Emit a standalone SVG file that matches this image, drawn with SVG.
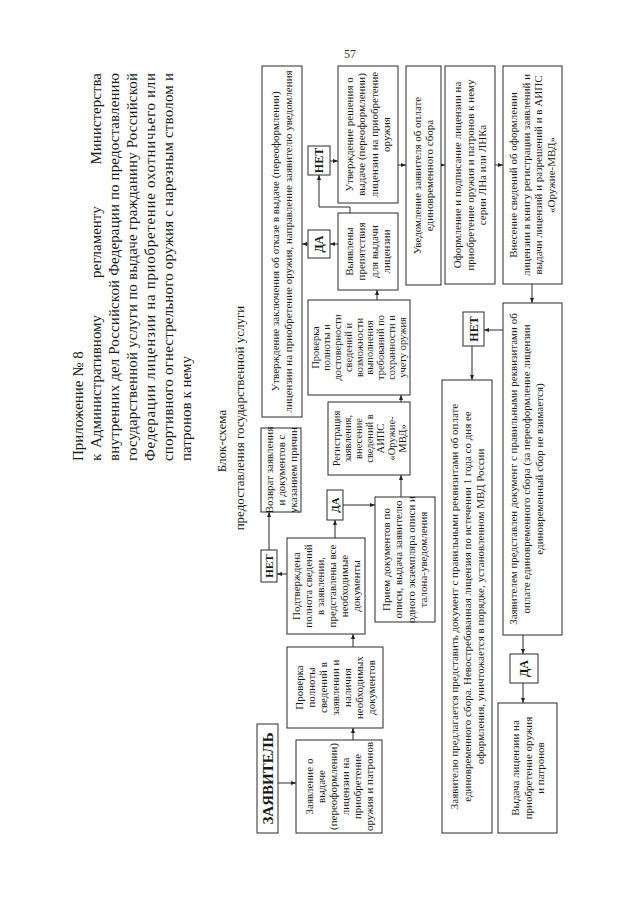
<svg xmlns="http://www.w3.org/2000/svg" width="640" height="905" viewBox="0 0 640 905">
<defs>
<marker id="ah" viewBox="0 0 10 10" refX="10" refY="5" markerWidth="5" markerHeight="5" markerUnits="userSpaceOnUse" orient="auto"><path d="M0,1 L10,5 L0,9 Z" fill="#222"/></marker>
</defs>
<style>
.b{fill:#fff;stroke:#2a2a2a;stroke-width:1}
.t{font-family:"Liberation Serif","Times New Roman",serif;font-size:11px;fill:#1a1a1a;text-anchor:middle}
.n{font-size:10.5px}
.k{font-weight:bold}
.h{font-family:"Liberation Serif","Times New Roman",serif;font-size:15px;fill:#1a1a1a}
.s{font-family:"Liberation Serif","Times New Roman",serif;font-size:13px;fill:#1a1a1a;text-anchor:middle}
.c{fill:none;stroke:#2a2a2a;stroke-width:1;marker-end:url(#ah)}
</style>
<rect width="640" height="905" fill="#fff"/>
<text x="350" y="58" style="font-family:'Liberation Serif',serif;font-size:12px;fill:#333" text-anchor="middle">57</text>
<g transform="matrix(0,-1,1,0,0,905)">
<g id="title">
<text class="h" x="444" y="83">Приложение № 8</text>
<text class="h" y="101"><tspan x="444">к</tspan><tspan x="457">Административному</tspan><tspan x="627">регламенту</tspan><tspan x="832" text-anchor="end">Министерства</tspan></text>
<text class="h" x="444" y="119" textLength="388" lengthAdjust="spacing">внутренних дел Российской Федерации по предоставлению</text>
<text class="h" x="444" y="137" textLength="388" lengthAdjust="spacing">государственной услуги по выдаче гражданину Российской</text>
<text class="h" x="444" y="155" textLength="388" lengthAdjust="spacing">Федерации лицензии на приобретение охотничьего или</text>
<text class="h" x="444" y="173" textLength="388" lengthAdjust="spacing">спортивного огнестрельного оружия с нарезным стволом и</text>
<text class="h" x="444" y="191">патронов к нему</text>
<text class="s" x="464" y="226">Блок-схема</text>
<text class="s" x="487" y="244">предоставления государственной услуги</text>
</g>
<g id="connectors">
<path class="c" d="M122,278 L122,296"/>
<path class="c" d="M165,353 L177,353"/>
<path class="c" d="M258,353 L271,353"/>
<path class="c" d="M331,287 L331,277"/>
<path class="c" d="M355,269 L393,269"/>
<path class="c" d="M367,335 L385,335"/>
<path class="c" d="M400,343 L400,375"/>
<path class="c" d="M408,401 L430,401"/>
<path class="c" d="M503,401 L510,401"/>
<path class="c" d="M605,377 L615,377"/>
<path class="c" d="M661,338 L661,330"/>
<path class="c" d="M661,308 L661,302"/>
<path class="c" d="M692,350 L698,350 L698,319 L730,319"/>
<path class="c" d="M744,330 L744,338"/>
<path class="c" d="M740,398 L740,406"/>
<path class="c" d="M740,441 L740,445"/>
<path class="c" d="M740,495 L740,503"/>
<path class="c" d="M621,532 L602,532"/>
<path class="c" d="M575,503 L575,484"/>
<path class="c" d="M559,472 L525,472"/>
<path class="c" d="M270,523 L251,523"/>
<path class="c" d="M222,523 L202,523"/>
</g>
<g id="zayavitel"><rect class="b" x="72" y="257" width="109" height="21"/><text class="t k" x="126.5" y="273" style="font-size:15px">ЗАЯВИТЕЛЬ</text></g>
<g id="zayavlenie"><rect class="b" x="72" y="296" width="93" height="86"/><text class="t"><tspan x="118.5" y="312.6">Заявление о</tspan><tspan x="118.5" y="324.6">выдаче</tspan><tspan x="118.5" y="336.6">(переоформлении)</tspan><tspan x="118.5" y="348.6">лицензии на</tspan><tspan x="118.5" y="360.6">приобретение</tspan><tspan x="118.5" y="372.6">оружия и патронов</tspan></text></g>
<g id="proverka1"><rect class="b" x="177" y="287" width="81" height="96"/><text class="t"><tspan x="217.5" y="302.6">Проверка</tspan><tspan x="217.5" y="314.6">полноты</tspan><tspan x="217.5" y="326.6">сведений в</tspan><tspan x="217.5" y="338.6">заявлении и</tspan><tspan x="217.5" y="350.6">наличия</tspan><tspan x="217.5" y="362.6">необходимых</tspan><tspan x="217.5" y="374.6">документов</tspan></text></g>
<g id="podtverzhdena"><rect class="b" x="271" y="287" width="96" height="78"/><text class="t"><tspan x="319" y="299.6">Подтверждена</tspan><tspan x="319" y="311.6">полнота сведений</tspan><tspan x="319" y="323.6">в заявлении,</tspan><tspan x="319" y="335.6">представлены все</tspan><tspan x="319" y="347.6">необходимые</tspan><tspan x="319" y="359.6">документы</tspan></text></g>
<g id="net2"><rect class="b" x="323" y="261" width="32" height="16"/><text class="t k" x="339" y="273">НЕТ</text></g>
<g id="vozvrat"><rect class="b" x="393" y="261" width="84" height="40"/><text class="t"><tspan x="435" y="272.6">Возврат заявления</tspan><tspan x="435" y="284.6">и документов с</tspan><tspan x="435" y="296.6">указанием причин</tspan></text></g>
<g id="da2"><rect class="b" x="385" y="327" width="30" height="16"/><text class="t k" x="400" y="339">ДА</text></g>
<g id="priem"><rect class="b" x="283" y="375" width="125" height="60"/><text class="t"><tspan x="345.5" y="389.9">Прием документов по</tspan><tspan x="345.5" y="402.4">описи, выдача заявителю</tspan><tspan x="345.5" y="414.9">одного экземпляра описи и</tspan><tspan x="345.5" y="427.4">талона-уведомления</tspan></text></g>
<g id="registraciya"><rect class="b" x="430" y="328" width="73" height="82"/><text class="t n"><tspan x="466.5" y="339.5">Регистрация</tspan><tspan x="466.5" y="350.5">заявления,</tspan><tspan x="466.5" y="361.5">внесение</tspan><tspan x="466.5" y="372.5">сведений в</tspan><tspan x="466.5" y="383.5">АИПС</tspan><tspan x="466.5" y="394.5">«Оружие-</tspan><tspan x="466.5" y="405.5">МВД»</tspan></text></g>
<g id="proverka2"><rect class="b" x="510" y="308" width="95" height="102"/><text class="t n"><tspan x="557.5" y="319.3">Проверка</tspan><tspan x="557.5" y="330.1">полноты и</tspan><tspan x="557.5" y="340.9">достоверности</tspan><tspan x="557.5" y="351.7">сведений и</tspan><tspan x="557.5" y="362.5">возможности</tspan><tspan x="557.5" y="373.3">выполнения</tspan><tspan x="557.5" y="384.1">требований по</tspan><tspan x="557.5" y="394.9">сохранности и</tspan><tspan x="557.5" y="405.7">учету оружия</tspan></text></g>
<g id="vyyavleny"><rect class="b" x="615" y="338" width="77" height="60"/><text class="t"><tspan x="653.5" y="352.9">Выявлены</tspan><tspan x="653.5" y="365.4">препятствия</tspan><tspan x="653.5" y="377.9">для выдачи</tspan><tspan x="653.5" y="390.4">лицензии</tspan></text></g>
<g id="da1"><rect class="b" x="647" y="308" width="28" height="22"/><text class="t k" x="661" y="323" style="font-size:12px">ДА</text></g>
<g id="net1"><rect class="b" x="730" y="308" width="29" height="22"/><text class="t k" x="744.5" y="323" style="font-size:12px">НЕТ</text></g>
<g id="otkaz"><rect class="b" x="488" y="262" width="351" height="40"/><text class="t"><tspan x="663.5" y="279">Утверждение заключения об отказе в выдаче (переоформлении)</tspan><tspan x="663.5" y="292">лицензии на приобретение оружия, направление заявителю уведомления</tspan></text></g>
<g id="reshenie"><rect class="b" x="702" y="338" width="137" height="60"/><text class="t"><tspan x="770.5" y="352.9">Утверждение решения о</tspan><tspan x="770.5" y="365.4">выдаче (переоформлении)</tspan><tspan x="770.5" y="377.9">лицензии на приобретение</tspan><tspan x="770.5" y="390.4">оружия</tspan></text></g>
<g id="uvedomlenie"><rect class="b" x="620" y="406" width="219" height="35"/><text class="t"><tspan x="729.5" y="420.9">Уведомление заявителя об оплате</tspan><tspan x="729.5" y="433.4">единовременного сбора</tspan></text></g>
<g id="oformlenie"><rect class="b" x="621" y="445" width="218" height="50"/><text class="t"><tspan x="730" y="461.1">Оформление и подписание лицензии на</tspan><tspan x="730" y="473.6">приобретение оружия и патронов к нему</tspan><tspan x="730" y="486.1">серии ЛНа или ЛНКа</tspan></text></g>
<g id="vnesenie"><rect class="b" x="621" y="503" width="218" height="59"/><text class="t"><tspan x="730" y="517.4">Внесение сведений об оформлении</tspan><tspan x="730" y="529.9">лицензии в книгу регистрации заявлений и</tspan><tspan x="730" y="542.4">выдачи лицензий и разрешений и в АИПС</tspan><tspan x="730" y="554.9">«Оружие-МВД»</tspan></text></g>
<g id="predstavlen"><rect class="b" x="270" y="503" width="332" height="59"/><text class="t"><tspan x="436" y="517">Заявителем представлен документ с правильными реквизитами об</tspan><tspan x="436" y="530">оплате единовременного сбора (за переоформление лицензии</tspan><tspan x="436" y="543">единовременный сбор не взимается)</tspan></text></g>
<g id="net3"><rect class="b" x="559" y="463" width="34" height="21"/><text class="t k" x="576" y="477.5" style="font-size:12px">НЕТ</text></g>
<g id="predlagaetsya"><rect class="b" x="72" y="442" width="453" height="50"/><text class="t"><tspan x="298.5" y="457.6">Заявителю предлагается представить документ с правильными реквизитами об оплате</tspan><tspan x="298.5" y="470.6">единовременного сбора. Невостребованная лицензия по истечении 1 года со дня ее</tspan><tspan x="298.5" y="483.6">оформления, уничтожается в порядке, установленном МВД России</tspan></text></g>
<g id="da3"><rect class="b" x="222" y="510" width="29" height="28"/><text class="t k" x="236.5" y="528" style="font-size:12px">ДА</text></g>
<g id="vydacha"><rect class="b" x="72" y="498" width="130" height="59"/><text class="t"><tspan x="137" y="519">Выдача лицензии на</tspan><tspan x="137" y="531.5">приобретение оружия</tspan><tspan x="137" y="544">и патронов</tspan></text></g>
</g>
</svg>
